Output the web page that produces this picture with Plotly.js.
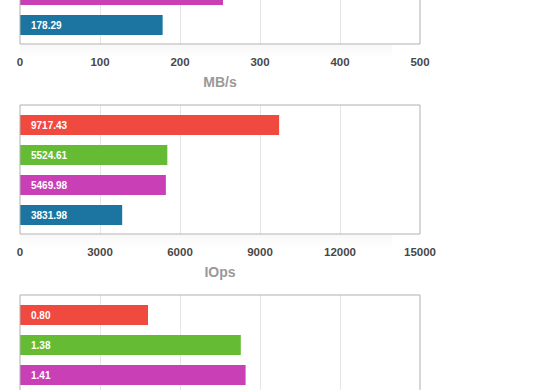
<!DOCTYPE html>
<html>
<head>
<meta charset="utf-8">
<script src="https://cdn.plot.ly/plotly-3.0.1.min.js"></script>
<style>html,body{margin:0;padding:0;background:#fff;}#chart{width:560px;height:390px;}</style>
</head>
<body>
<div id="chart"></div>
<script>
// Series order (top to bottom): red, green, magenta, blue
var seriesColors = ['#f0493f', '#65bb33', '#c940b6', '#1c75a1'];
var seriesIndex = [0, 1, 2, 3];

// Panel 1: throughput (MB/s) – only the lower part is in frame
var mbValues = [null, null, 253.75, 178.29];
var mbLabels = [null, null, null, '178.29'];
var mbTicks = [0, 100, 200, 300, 400, 500];
var mbTickText = ['0', '100', '200', '300', '400', '500'];

// Panel 2: IOps
var iopsValues = [9717.43, 5524.61, 5469.98, 3831.98];
var iopsLabels = ['9717.43', '5524.61', '5469.98', '3831.98'];
var iopsTicks = [0, 3000, 6000, 9000, 12000, 15000];
var iopsTickText = ['0', '3000', '6000', '9000', '12000', '15000'];

// Panel 3: latency – only the upper part is in frame
var latValues = [0.80, 1.38, 1.41, null];
var latLabels = ['0.80', '1.38', '1.41', null];
var latTicks = [0, 0.5, 1, 1.5, 2, 2.5];

var H = 390;
function py(p) { return 1 - p / H; }

var panels = [
  {vals: mbValues, labs: mbLabels, top: 0, bot: 44, yr: [3.633, 2.167], xr: [0, 500], ticks: mbTicks, tt: mbTickText, title: 'MB/s', mirrorTop: false, showTicks: true},
  {vals: iopsValues, labs: iopsLabels, top: 105, bot: 234, yr: [3.633, -0.667], xr: [0, 15000], ticks: iopsTicks, tt: iopsTickText, title: 'IOps', mirrorTop: true, showTicks: true},
  {vals: latValues, labs: latLabels, top: 295, bot: 390, yr: [2.5, -0.667], xr: [0, 2.5], ticks: latTicks, tt: latTicks.map(String), title: '', mirrorTop: true, showTicks: false}
];

var data = [];
var layout = {
  width: 560, height: 390,
  margin: {l: 20, r: 140, t: 0, b: 0},
  paper_bgcolor: '#fff', plot_bgcolor: '#fff',
  showlegend: false,
  font: {family: 'Liberation Sans, Arial, sans-serif', color: '#444'},
  annotations: [], shapes: []
};

panels.forEach(function (p, i) {
  var n = i + 1;
  var xa = 'x' + (n === 1 ? '' : n), ya = 'y' + (n === 1 ? '' : n);
  var xk = 'xaxis' + (n === 1 ? '' : n), yk = 'yaxis' + (n === 1 ? '' : n);
  data.push({
    type: 'bar', orientation: 'h',
    x: p.vals, y: seriesIndex,
    width: 0.667,
    marker: {color: seriesColors, line: {width: 0}},
    xaxis: xa, yaxis: ya, hoverinfo: 'none'
  });
  layout[xk] = {
    domain: [0, 1], anchor: ya, range: p.xr, fixedrange: true,
    tickmode: 'array', tickvals: p.ticks, ticktext: p.tt, showticklabels: p.showTicks,
    tickfont: {size: 11.5, color: '#484848', weight: 'bold'}, ticklabelstandoff: 9,
    showgrid: true, gridcolor: '#e6e6e6', gridwidth: 1, zeroline: false,
    showline: false, ticks: '',
    title: {text: p.title, font: {size: 14, color: '#999', weight: 'bold'}, standoff: 10}
  };
  layout[yk] = {
    domain: [py(p.bot), py(p.top)], anchor: xa, range: p.yr, fixedrange: true,
    showticklabels: false, showgrid: false, zeroline: false, ticks: '', showline: false
  };
  var x0 = 0, x1 = 1, yt = py(p.top), yb = py(p.bot);
  var lc = {color: '#b0b0b0', width: 1};
  // soft shadow under panel
  for (var s = 0; s < 8; s++) {
    layout.shapes.push({type: 'rect', xref: 'paper', yref: 'paper', x0: 0.0, x1: 0.93,
      y0: py(p.bot + 1 + s * 1.5 + 1.5), y1: py(p.bot + 1 + s * 1.5),
      fillcolor: 'rgba(0,0,0,' + (0.028 - s * 0.0033).toFixed(4) + ')', line: {width: 0}, layer: 'below'});
  }
  // frame
  layout.shapes.push({type: 'line', xref: 'paper', yref: 'paper', x0: x0, x1: x0, y0: yb, y1: yt, line: lc});
  layout.shapes.push({type: 'line', xref: 'paper', yref: 'paper', x0: x1, x1: x1, y0: yb, y1: yt, line: lc});
  if (p.bot < H) layout.shapes.push({type: 'line', xref: 'paper', yref: 'paper', x0: x0, x1: x1, y0: yb, y1: yb, line: lc});
  if (p.mirrorTop) layout.shapes.push({type: 'line', xref: 'paper', yref: 'paper', x0: x0, x1: x1, y0: yt, y1: yt, line: lc});
  // bar labels
  p.labs.forEach(function (t, k) {
    if (t === null) return;
    layout.annotations.push({
      xref: xa, yref: ya, x: 0, y: seriesIndex[k], text: t, showarrow: false,
      xanchor: 'left', yanchor: 'middle', xshift: 9,
      font: {size: 10, color: '#fff', weight: 'bold', family: 'Liberation Sans, Arial, sans-serif'}
    });
  });
});

Plotly.newPlot('chart', data, layout, {displayModeBar: false, staticPlot: true});
</script>
</body>
</html>
